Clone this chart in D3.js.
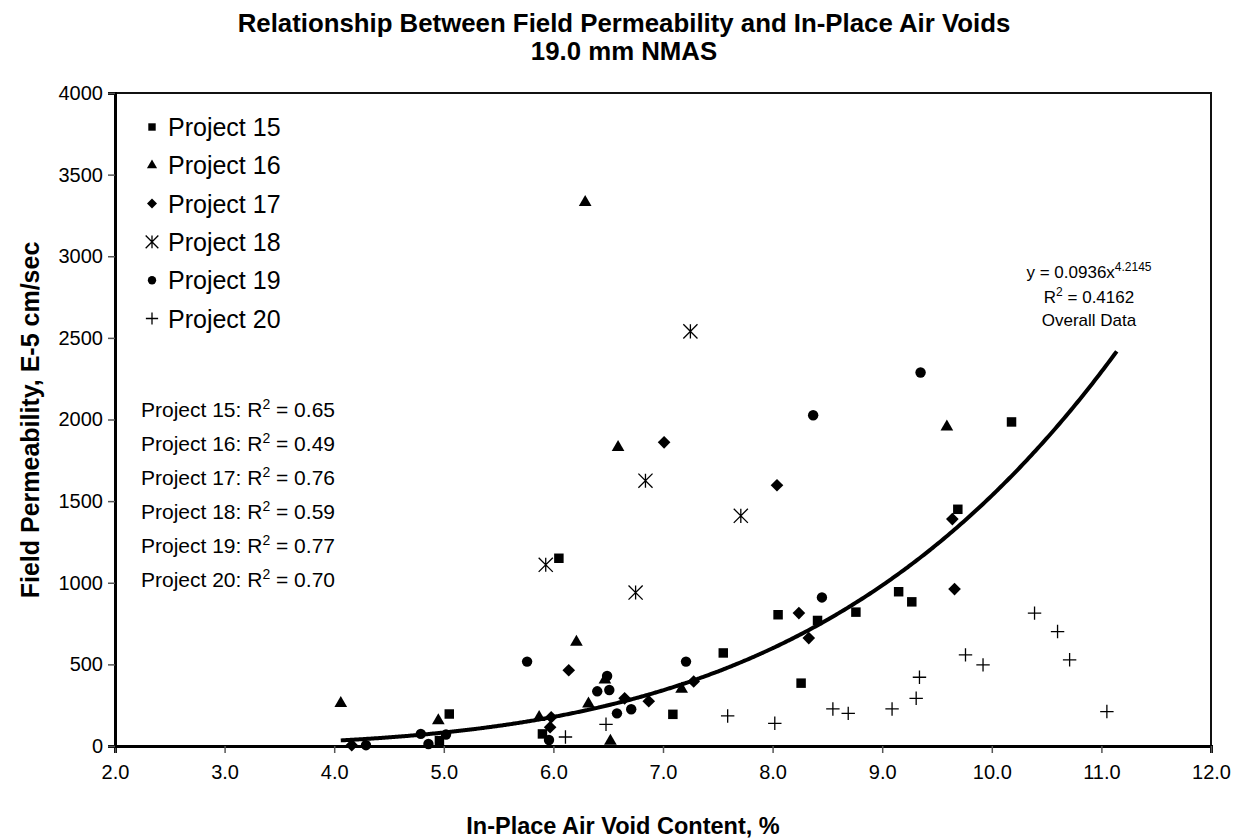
<!DOCTYPE html>
<html>
<head>
<meta charset="utf-8">
<script src="https://cdn.jsdelivr.net/npm/d3@7"></script>
<style>
  body { margin: 0; background: #fff; }
  text { font-family: "Liberation Sans", Arial, sans-serif; fill: #000; }
</style>
</head>
<body>
<script>
var w = 1242, h = 839;

// ---- data ----
var projects = ["Project 15", "Project 16", "Project 17", "Project 18", "Project 19", "Project 20"];
var rSquared = ["0.65", "0.49", "0.76", "0.59", "0.77", "0.70"];

var p15 = [[4.96,33],[5.05,196],[5.90,74],[6.05,1150],[7.09,194],[7.55,570],[8.05,804],[8.26,385],
           [8.41,769],[8.76,820],[9.15,945],[9.27,883],[9.69,1450],[10.18,1985]];
var p16 = [[4.06,262],[4.95,155],[5.87,175],[6.21,636],[6.29,3330],[6.32,258],[6.47,405],[6.52,30],
           [6.59,1830],[7.17,348],[9.59,1955]];
var p17 = [[4.16,5],[5.97,115],[5.98,176],[6.14,464],[6.65,292],[6.87,274],[7.01,1860],[7.28,395],
           [8.04,1597],[8.24,814],[8.33,661],[9.64,1390],[9.66,961]];
var p18 = [[5.93,1110],[6.75,940],[6.84,1625],[7.25,2540],[7.71,1410]];
var p19 = [[4.29,5],[4.79,74],[4.86,12],[5.02,70],[5.76,517],[5.96,37],[6.40,335],[6.49,429],
           [6.51,343],[6.58,200],[6.71,225],[7.21,517],[8.37,2026],[8.45,910],[9.35,2288]];
var p20 = [[6.11,55],[6.48,133],[7.59,184],[8.02,139],[8.55,227],[8.69,200],[9.09,227],[9.31,292],
           [9.34,421],[9.76,558],[9.92,497],[10.39,814],[10.60,701],[10.71,528],[11.05,211]];

var xTicks = [2,3,4,5,6,7,8,9,10,11,12];
var yTicks = [0,500,1000,1500,2000,2500,3000,3500,4000];

// overall power trendline y = a * x^b, fitted range
var trendA = 0.0936, trendB = 4.2145;
var trendRange = [4.06, 11.14];

// ---- symbols ----
var symPlus = {
  draw: function(ctx, size) {
    var r = Math.sqrt(size) / 2;
    ctx.moveTo(-r, 0); ctx.lineTo(r, 0);
    ctx.moveTo(0, -r); ctx.lineTo(0, r);
  }
};
var symStar = {
  draw: function(ctx, size) {
    var r = Math.sqrt(size) / 2;
    ctx.moveTo(-r, -r); ctx.lineTo(r, r);
    ctx.moveTo(-r, r); ctx.lineTo(r, -r);
    ctx.moveTo(0, -r); ctx.lineTo(0, r);
  }
};
var symRhomb = {
  draw: function(ctx, size) {
    var r = Math.sqrt(size / 2);
    ctx.moveTo(0, -r); ctx.lineTo(r, 0); ctx.lineTo(0, r); ctx.lineTo(-r, 0);
    ctx.closePath();
  }
};

var series = [
  { data: p15, type: d3.symbolSquare,   size: 90,  lsize: 55,  filled: true },
  { data: p16, type: d3.symbolTriangle, size: 70,  lsize: 45,  filled: true },
  { data: p17, type: symRhomb,          size: 80,  lsize: 50,  filled: true },
  { data: p18, type: symStar,           size: 200, lsize: 160, filled: false },
  { data: p19, type: d3.symbolCircle,   size: 85,  lsize: 55,  filled: true },
  { data: p20, type: symPlus,           size: 180, lsize: 150, filled: false }
];

var svg = d3.select("body").append("svg")
    .attr("width", w)
    .attr("height", h);

var x = d3.scaleLinear().domain([2, 12]).range([115, 1211]);
var y = d3.scaleLinear().domain([0, 4000]).range([746, 93]);

// frame (top / right)
svg.append("rect")
    .attr("x", x(2)).attr("y", y(4000))
    .attr("width", x(12) - x(2)).attr("height", y(0) - y(4000))
    .style("fill", "none").style("stroke", "#111").style("stroke-width", 2);

// axes
var xAxis = svg.append("g")
    .attr("transform", "translate(0," + y(0) + ")")
    .call(d3.axisBottom(x).tickValues(xTicks).tickSize(7).tickPadding(12)
          .tickFormat(d3.format(".1f")));
var yAxis = svg.append("g")
    .attr("transform", "translate(" + x(2) + ",0)")
    .call(d3.axisLeft(y).tickValues(yTicks).tickSize(7).tickPadding(5)
          .tickFormat(d3.format("d")));

[xAxis, yAxis].forEach(function(g) {
  g.attr("font-size", null).attr("font-family", null);
  g.select(".domain").style("stroke", "#000").style("stroke-width", 3);
  g.selectAll(".tick line").style("stroke", "#555").style("stroke-width", 1.5);
  g.selectAll(".tick text").style("font-size", "20px").style("fill", "#000");
});

// points
series.forEach(function(s) {
  svg.append("g").selectAll("path").data(s.data).enter().append("path")
    .attr("transform", function(d) { return "translate(" + x(d[0]) + "," + y(d[1]) + ")"; })
    .attr("d", d3.symbol().type(s.type).size(s.size))
    .style("fill", s.filled ? "#000" : "none")
    .style("stroke", "#000")
    .style("stroke-width", s.filled ? 0 : 1.3);
});

// trendline
var trendX = d3.range(trendRange[0], trendRange[1] + 0.001, 0.02);
svg.append("path")
    .datum(trendX)
    .attr("d", d3.line()
        .x(function(d) { return x(d); })
        .y(function(d) { return y(trendA * Math.pow(d, trendB)); })
        .curve(d3.curveBasis))
    .style("fill", "none").style("stroke", "#000").style("stroke-width", 4);

// trend label
var tl = svg.append("g").attr("transform", "translate(1089,0)").style("font-size", "17px");
var t1 = tl.append("text").attr("y", 278).attr("text-anchor", "middle");
t1.append("tspan").text("y = 0.0936x");
t1.append("tspan").text("4.2145").attr("dy", -7).style("font-size", "12px");
var t2 = tl.append("text").attr("y", 303).attr("text-anchor", "middle");
t2.append("tspan").text("R");
t2.append("tspan").text("2").attr("dy", -7).style("font-size", "12px");
t2.append("tspan").text(" = 0.4162").attr("dy", 7);
tl.append("text").attr("y", 326).attr("text-anchor", "middle").text("Overall Data");

// legend
var legend = svg.append("g").selectAll("g").data(series).enter().append("g")
    .attr("transform", function(d, i) { return "translate(152," + (127 + i * 38.3) + ")"; });
legend.append("path")
    .attr("d", function(d) { return d3.symbol().type(d.type).size(d.lsize)(); })
    .style("fill", function(d) { return d.filled ? "#000" : "none"; })
    .style("stroke", "#000")
    .style("stroke-width", function(d) { return d.filled ? 0 : 1.3; });
legend.append("text")
    .attr("x", 16).attr("y", 9)
    .style("font-size", "25px")
    .text(function(d, i) { return projects[i]; });

// per-project R^2 block
var rb = svg.append("g").selectAll("text").data(rSquared).enter().append("text")
    .attr("x", 141)
    .attr("y", function(d, i) { return 417 + i * 34; })
    .style("font-size", "21px");
rb.append("tspan").text(function(d, i) { return projects[i] + ": R"; });
rb.append("tspan").text("2").attr("dy", -8).style("font-size", "14px");
rb.append("tspan").text(function(d) { return " = " + d; }).attr("dy", 8);

// titles
svg.append("text").attr("x", 624).attr("y", 32).attr("text-anchor", "middle")
    .style("font-size", "25.8px").style("font-weight", "bold")
    .text("Relationship Between Field Permeability and In-Place Air Voids");
svg.append("text").attr("x", 624).attr("y", 60).attr("text-anchor", "middle")
    .style("font-size", "25.8px").style("font-weight", "bold")
    .text("19.0 mm NMAS");
svg.append("text").attr("x", 623).attr("y", 834).attr("text-anchor", "middle")
    .style("font-size", "23.5px").style("font-weight", "bold")
    .text("In-Place Air Void Content, %");
svg.append("text")
    .attr("transform", "translate(39,420) rotate(-90)")
    .attr("text-anchor", "middle")
    .style("font-size", "25px").style("font-weight", "bold")
    .text("Field Permeability, E-5 cm/sec");
</script>
</body>
</html>
